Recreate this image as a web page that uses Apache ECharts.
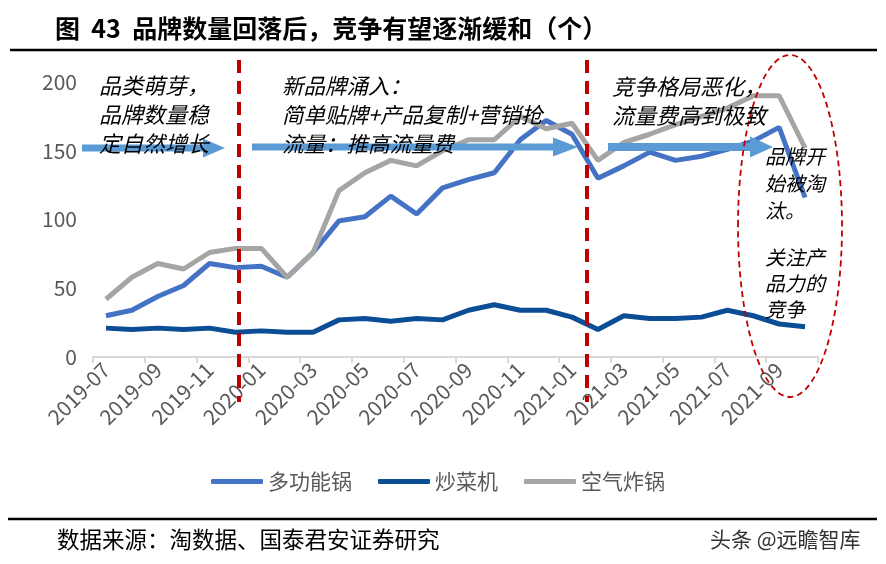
<!DOCTYPE html>
<html>
<head>
<meta charset="utf-8">
<script src="https://cdn.jsdelivr.net/npm/echarts@6/dist/echarts.min.js"></script>
<style>
html,body{margin:0;padding:0;background:#fff;}
#c{width:886px;height:564px;}
</style>
</head>
<body>
<div id="c"></div>
<script>
var categories = ['2019-07','2019-08','2019-09','2019-10','2019-11','2019-12',
  '2020-01','2020-02','2020-03','2020-04','2020-05','2020-06','2020-07','2020-08',
  '2020-09','2020-10','2020-11','2020-12','2021-01','2021-02','2021-03','2021-04',
  '2021-05','2021-06','2021-07','2021-08','2021-09','2021-10'];
var multiPot = [30,34,44,52,68,65,66,58,76,99,102,117,104,123,129,134,158,172,162,130,139,149,143,146,151,157,167,116];
var cookingMachine = [21,20,21,20,21,18,19,18,18,27,28,26,28,27,34,38,34,34,29,20,30,28,28,29,34,30,24,22];
var airFryer = [42,58,68,64,76,79,79,58,76,121,134,143,139,150,158,158,175,166,170,143,156,162,169,175,181,190,190,152];
var seriesNames = ['多功能锅','炒菜机','空气炸锅'];
var seriesColors = ['#4472C4','#0B4E96','#A5A5A5'];

var chart = echarts.init(document.getElementById('c'));
var FONT = '"Noto Sans CJK SC","Noto Sans",sans-serif';

function arrow(x1, x2, yc, shaftH, headStart, headH) {
  var h = shaftH/2, hh = headH/2;
  return {
    type: 'polygon', z: 20,
    shape: { points: [[x1,yc-h],[headStart,yc-h],[headStart,yc-hh],[x2,yc],[headStart,yc+hh],[headStart,yc+h],[x1,yc+h]] },
    style: { fill: '#5B9BD5' }
  };
}
function note(x, y, txt, lh, fs) {
  return {
    type: 'text', z: 30, left: x, top: y,
    style: { text: txt, fill: '#000', font: 'italic ' + fs + 'px ' + FONT, lineHeight: lh }
  };
}

var option = {
  animation: false,
  backgroundColor: '#fff',
  textStyle: { fontFamily: FONT },
  grid: { left: 93, right: 68, top: 82, bottom: 207 },
  legend: {
    left: 206, top: 466,
    icon: 'roundRect', itemWidth: 52, itemHeight: 5, itemGap: 26,
    textStyle: { fontSize: 21, color: '#595959', fontFamily: FONT },
    data: seriesNames
  },
  xAxis: {
    type: 'category', data: categories, boundaryGap: true,
    axisLine: { lineStyle: { color: '#D9D9D9', width: 2 } },
    axisTick: { show: true, interval: 1, length: 6, lineStyle: { color: '#D9D9D9', width: 2 } },
    axisLabel: { interval: 1, rotate: 45, fontSize: 21, color: '#595959', margin: 9, fontFamily: FONT }
  },
  yAxis: {
    type: 'value', min: 0, max: 200, interval: 50,
    axisLine: { show: false }, axisTick: { show: false },
    splitLine: { show: false },
    axisLabel: { fontSize: 21, color: '#595959', margin: 16, fontFamily: FONT }
  },
  series: [
    { name: seriesNames[0], type: 'line', data: multiPot, showSymbol: false, symbol: 'none',
      lineStyle: { width: 5, color: seriesColors[0] }, itemStyle: { color: seriesColors[0] } },
    { name: seriesNames[1], type: 'line', data: cookingMachine, showSymbol: false, symbol: 'none',
      lineStyle: { width: 5, color: seriesColors[1] }, itemStyle: { color: seriesColors[1] } },
    { name: seriesNames[2], type: 'line', data: airFryer, showSymbol: false, symbol: 'none',
      lineStyle: { width: 5, color: seriesColors[2] }, itemStyle: { color: seriesColors[2] } }
  ],
  graphic: [
    { type: 'text', left: 55, top: 16, style: { text: '图  43  品牌数量回落后，竞争有望逐渐缓和（个）', fill: '#000', font: 'bold 25px ' + FONT } },
    { type: 'line', shape: { x1: 10, y1: 50, x2: 877, y2: 50 }, style: { stroke: '#000', lineWidth: 2.5 } },
    { type: 'line', shape: { x1: 8, y1: 519, x2: 877, y2: 519 }, style: { stroke: '#000', lineWidth: 2.5 } },
    { type: 'text', left: 57, top: 528, style: { text: '数据来源：淘数据、国泰君安证券研究', fill: '#000', font: '22.5px ' + FONT } },
    { type: 'text', left: 710, top: 529, style: { text: '头条 @远瞻智库', fill: '#333', font: '21px ' + FONT } },
    { type: 'line', z: 25, shape: { x1: 239, y1: 60, x2: 239, y2: 402 }, style: { stroke: '#C00000', lineWidth: 4, lineDash: [13, 8] } },
    { type: 'line', z: 25, shape: { x1: 587, y1: 60, x2: 587, y2: 402 }, style: { stroke: '#C00000', lineWidth: 4, lineDash: [13, 8] } },
    { type: 'ellipse', z: 25, shape: { cx: 790, cy: 226, rx: 52, ry: 171 }, style: { fill: 'none', stroke: '#C00000', lineWidth: 1.8, lineDash: [6, 4] } },
    arrow(82, 225, 148, 7, 203, 19),
    arrow(252, 578, 147, 7, 553, 19),
    arrow(608, 773, 147, 8, 750, 21),
    note(99, 71, '品类萌芽，\n品牌数量稳\n定自然增长', 29, 22),
    note(282, 71, '新品牌涌入：\n简单贴牌+产品复制+营销抢\n流量：推高流量费', 29, 21.5),
    note(612, 72, '竞争格局恶化，\n流量费高到极致', 29, 22),
    note(765, 143, '品牌开\n始被淘\n汰。', 27, 20),
    note(765, 244, '关注产\n品力的\n竞争', 26, 20)
  ]
};
chart.setOption(option);
</script>
</body>
</html>
